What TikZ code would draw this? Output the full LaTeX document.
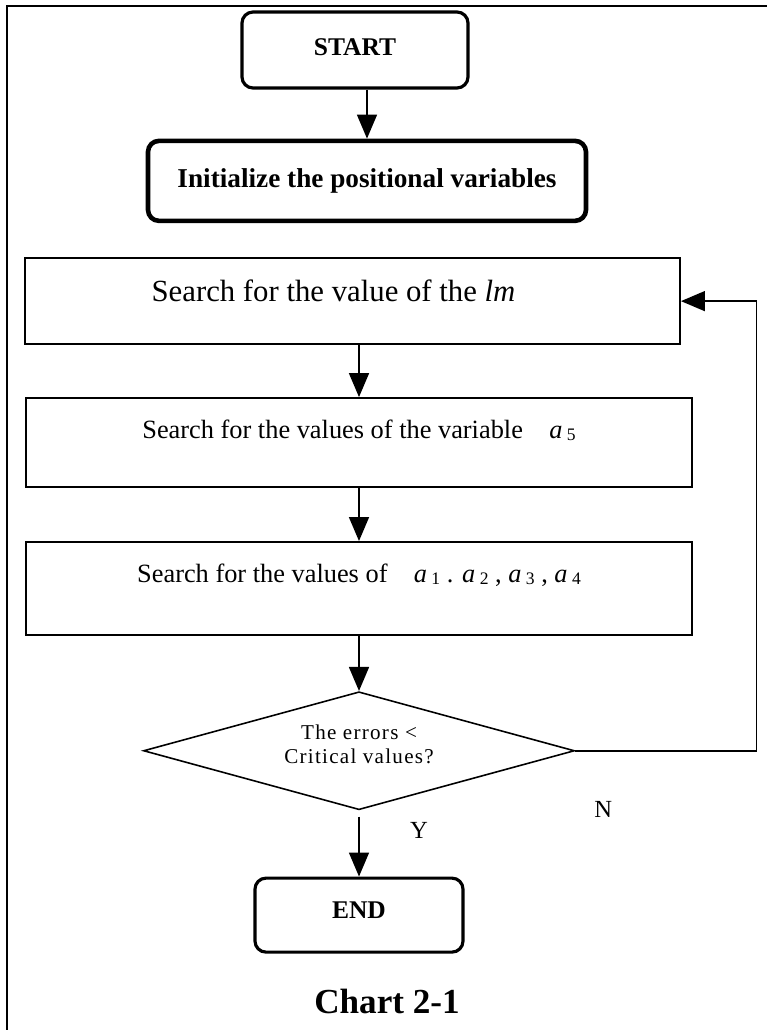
\documentclass[tikz,border=0pt]{standalone}
\usepackage{fontspec}
\setmainfont{Liberation Serif}
\newfontfamily\spacedserif[LetterSpace=6]{Liberation Serif}
\usepackage{tikz}
\usetikzlibrary{arrows.meta,positioning,shapes.geometric}
\newcommand{\avar}[1]{\textit{a}\,\raisebox{-0.2ex}{\fontsize{10}{12}\selectfont #1}}
\newcommand{\uptext}[2]{\raisebox{#1}[\height][\depth]{#2}}

\begin{document}
\begin{tikzpicture}[
        flecha/.style={-{Triangle[length=0.48cm,width=0.4cm]}, line width=0.9pt},
        terminal/.style={draw, rounded corners=0.22cm, line width=1.8pt, font=\fontsize{14.5}{17}\selectfont\bfseries},
        searchbox/.style={draw, line width=1.1pt, minimum width=13.32cm, font=\fontsize{15}{18}\selectfont},
        lbl/.style={font=\fontsize{14}{17}\selectfont}]
        \useasboundingbox (0,0) rectangle (15.34,-20.6);

        % Moldura
        \draw[line width=1.1pt] (15.5,-0.12) -- (0.14,-0.12) -- (0.14,-20.8);

        % Inicio
        \node[terminal, minimum width=4.52cm, minimum height=1.52cm] (start) at (7.1,-1.0) {\uptext{0.06cm}{START}};
        \node[terminal, line width=2.6pt, minimum width=8.76cm, minimum height=1.6cm, font=\fontsize{15.5}{18}\selectfont\bfseries, below=0.98cm of start, xshift=0.24cm] (init) {Initialize the positional variables};

        % Buscas
        \node[searchbox, minimum width=13.1cm, minimum height=1.72cm, font=\fontsize{17.5}{20}\selectfont, below=0.68cm of init, xshift=-0.29cm] (lm) {\uptext{0.2cm}{Search for the value of the \textit{lm}}\hspace*{0.76cm}};
        \node[searchbox, minimum height=1.78cm, below=1.04cm of lm, xshift=0.13cm] (afive) {\uptext{0.25cm}{Search for the values of the variable\quad\avar{5}}};
        \node[searchbox, minimum height=1.86cm, below=1.06cm of afive] (aall) {\uptext{0.27cm}{Search for the values of\quad\avar{1} . \avar{2} , \avar{3} , \avar{4}}};

        % Teste e fim
        \node[draw, diamond, aspect=3.65, line width=0.9pt, inner sep=0pt, minimum width=8.62cm, minimum height=2.36cm, font=\spacedserif\fontsize{12}{14}\selectfont, below=1.1cm of aall] (check) {\uptext{0.08cm}{\begin{tabular}{@{}c@{}}The errors <\\Critical values?\end{tabular}}};
        \node[terminal, minimum width=4.16cm, minimum height=1.48cm, below=1.32cm of check] (stop) {\uptext{0.1cm}{END}};

        % Setas
        \draw[flecha] (init.north |- start.south) -- (init.north);
        \draw[flecha] (afive.north |- lm.south) -- (afive.north);
        \draw[flecha] (afive.south) -- (aall.north);
        \draw[flecha] (aall.south) -- (check.north);
        \draw[flecha, shorten <=0.12cm] (check.south) -- (stop.north);
        \draw[flecha] (check.east) -- ++(3.62,0) |- (lm.east);

        % Rotulos
        \node[lbl] (yes) at ([xshift=1.2cm,yshift=-0.4cm]check.south) {Y};
        \node[lbl] (no) at ([xshift=0.56cm,yshift=-1.18cm]check.east) {N};
        \node[font=\fontsize{20}{24}\selectfont\bfseries] (caption) at ([xshift=0.56cm,yshift=-0.96cm]stop.south) {Chart 2-1};
    \end{tikzpicture}
\end{document}
